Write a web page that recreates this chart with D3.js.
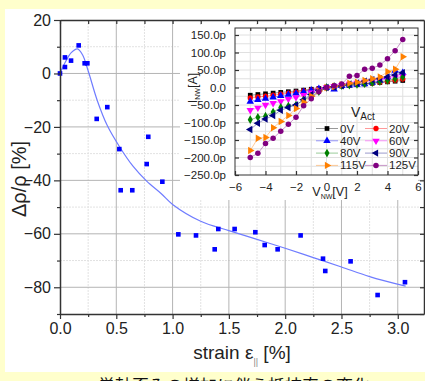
<!DOCTYPE html>
<html>
<head>
<meta charset="utf-8">
<script src="https://cdn.jsdelivr.net/npm/d3@7"></script>
<style>
  body { margin: 0; background: #ffffcc; }
  svg { display: block; font-family: "Liberation Sans", Arial, sans-serif; }
</style>
</head>
<body>
<svg id="chart" width="425" height="381"></svg>
<script>
// main plot: resistivity change vs strain
const strain = [0, 0.044, 0.044, 0.098, 0.166, 0.219, 0.243, 0.326, 0.42, 0.527, 0.539, 0.642,
  0.77, 0.784, 0.909, 1.051, 1.208, 1.374, 1.406, 1.551, 1.735, 1.818, 1.933, 2.137,
  2.336, 2.356, 2.581, 2.821, 3.064];
const drho = [0, 6.0, 2.4, 4.8, 10.5, 3.8, 3.8, -17.0, -12.6, -28.3, -43.7, -43.7,
  -33.9, -23.7, -40.5, -60.2, -60.6, -65.8, -58.2, -58.2, -59.4, -64.2, -65.8, -60.6,
  -69.3, -73.9, -70.3, -82.9, -78.1];
// fitted curve
const fitStrain = [0, 0.05, 0.1, 0.155, 0.2, 0.25, 0.33, 0.42, 0.53, 0.65, 0.77, 0.9, 1.0,
  1.25, 1.5, 1.75, 2.0, 2.25, 2.5, 2.75, 3.07];
const fitDrho = [0, 4.5, 7.8, 9.2, 7.0, 1.0, -10, -19.5, -27.5, -34.8, -40.3, -45, -49,
  -55.3, -58.8, -62.1, -65.4, -68.9, -72.4, -76, -79.6];
const xTicks = [0, 0.5, 1.0, 1.5, 2.0, 2.5, 3.0];
const xMinor = [0.25, 0.75, 1.25, 1.75, 2.25, 2.75, 3.25];
const yTicks = [20, 0, -20, -40, -60, -80];
const yMinor = [10, -10, -30, -50, -70, -90];

// inset: I-V curves
const vnw = [-5, -4.5, -4, -3.5, -3, -2.5, -2, -1.5, -1, -0.5, 0, 0.5, 1, 1.5, 2, 2.5, 3, 3.5, 4, 4.5, 5];
const vact = ["0V", "20V", "40V", "60V", "80V", "90V", "115V", "125V"];
const i0V = [-22, -20, -18, -16, -14, -12, -10, -7.5, -5, -2.5, 0, 2, 4, 6, 8, 10, 12, 14, 16, 18, 20];
const i20V = [-30, -27, -25, -22, -19, -16, -13, -10, -7, -3.5, 0, 3, 5, 7, 9, 11, 13, 15, 18, 21, 24];
const i40V = [-40, -35, -32, -28, -24, -20, -17, -12, -8, -4, 0, -5, 5, 6, 8, 10, 14, 20, 30, 48, 42];
const i60V = [-65, -58, -50, -45, -40, -33, -28, -22, -15, -7, 0, 4, 7, 10, 13, 16, 19, 22, 25, 30, 32];
const i80V = [-92, -85, -82, -70, -57, -53, -50, -35, -26, -12, 0, 3, 5, 7, 9, 11, 14, 17, 20, 25, 30];
const i90V = [-120, -102, -90, -80, -65, -57, -50, -35, -20, -8, 0, 2, 5, 10, 13, 18, 22, 25, 30, 36, 42];
const i115V = [-180, -145, -143, -115, -97, -80, -60, -42, -25, -10, 0, 3, 8, 12, 15, 20, 25, 30, 45, 52, 88];
const i125V = [-200, -188, -160, -145, -125, -105, -85, -52, -32, -12, 0, 5, 10, 32, 34, 52, 55, 64, 82, 105, 137];
const insetXTicks = [-6, -4, -2, 0, 2, 4, 6];
const insetYTicks = [150, 100, 50, 0, -50, -100, -150, -200, -250];

const seriesColors = ["#000000", "#ff0000", "#0000ff", "#ff00ff", "#008000", "#000080", "#ff8000", "#800080"];
const tri = d3.symbolTriangle;
const seriesSymbols = [
  { t: d3.symbolSquare, r: 0, s: 22 },
  { t: d3.symbolCircle, r: 0, s: 22 },
  { t: tri, r: 0, s: 24 },
  { t: tri, r: 180, s: 24 },
  { t: d3.symbolDiamond, r: 0, s: 22 },
  { t: tri, r: -90, s: 24 },
  { t: tri, r: 90, s: 24 },
  { t: d3.symbolCircle, r: 0, s: 24 }
];
const ivData = [i0V, i20V, i40V, i60V, i80V, i90V, i115V, i125V];

const svg = d3.select("#chart");

// white panel
svg.append("rect").attr("x", 5).attr("y", 9).attr("width", 420).attr("height", 363).attr("fill", "#fff");

const x = d3.scaleLinear().domain([0, 3.233]).range([60, 424]);
const y = d3.scaleLinear().domain([-90, 20]).range([314, 20]);

// grid
const grid = svg.append("g");
grid.selectAll(".vmin").data(xMinor.filter(d => d < 3.23)).join("line")
  .attr("x1", d => x(d)).attr("x2", d => x(d)).attr("y1", 20).attr("y2", 314)
  .attr("stroke", "#e2e2e2").attr("stroke-dasharray", "2,1");
grid.selectAll(".hmin").data(yMinor.slice(0, 5)).join("line")
  .attr("x1", 60).attr("x2", 424).attr("y1", d => y(d)).attr("y2", d => y(d))
  .attr("stroke", "#e2e2e2").attr("stroke-dasharray", "2,1");
grid.selectAll(".vmaj").data(xTicks.slice(1)).join("line")
  .attr("x1", d => x(d)).attr("x2", d => x(d)).attr("y1", 20).attr("y2", 314)
  .attr("stroke", "#b4b4b4");
grid.selectAll(".hmaj").data(yTicks.slice(1)).join("line")
  .attr("x1", 60).attr("x2", 424).attr("y1", d => y(d)).attr("y2", d => y(d))
  .attr("stroke", "#b4b4b4");

// fit curve and points
const fitLine = d3.line().x(d => x(d[0])).y(d => y(d[1])).curve(d3.curveCatmullRom.alpha(0.5));
svg.append("path").datum(fitStrain.map((s, i) => [s, fitDrho[i]]))
  .attr("d", fitLine).attr("fill", "none").attr("stroke", "#6f7cff").attr("stroke-width", 1.2);
svg.append("g").selectAll("rect").data(strain.map((s, i) => [s, drho[i]])).join("rect")
  .attr("x", d => x(d[0]) - 2.3).attr("y", d => y(d[1]) - 2.3)
  .attr("width", 4.6).attr("height", 4.6).attr("fill", "#0000ff");

// axes
function styleAxis(sel) {
  sel.select(".domain").attr("stroke", "#333").attr("stroke-width", 1.5);
  sel.selectAll(".tick line").attr("stroke", "#333").attr("stroke-width", 1.2);
  sel.selectAll(".tick text").attr("fill", "#222");
}
svg.append("g").attr("transform", "translate(60,0)")
  .call(d3.axisLeft(y).tickValues(yTicks).tickSize(6).tickSizeOuter(0).tickPadding(3))
  .attr("font-size", 16).attr("font-family", null).call(styleAxis);
svg.append("g").attr("transform", "translate(60,0)")
  .call(d3.axisLeft(y).tickValues(yMinor).tickSize(3).tickSizeOuter(0).tickFormat(""))
  .call(styleAxis).select(".domain").remove();
svg.append("g").attr("transform", "translate(0,314)")
  .call(d3.axisBottom(x).tickValues(xTicks).tickFormat(d3.format(".1f")).tickSize(5).tickSizeOuter(0).tickPadding(4))
  .attr("font-size", 16).attr("font-family", null).call(styleAxis);
svg.append("g").attr("transform", "translate(0,314)")
  .call(d3.axisBottom(x).tickValues(xMinor.filter(d => d < 3.23)).tickSize(3).tickSizeOuter(0).tickFormat(""))
  .call(styleAxis).select(".domain").remove();
svg.append("g").attr("transform", "translate(0,20)")
  .call(d3.axisTop(x).tickValues(xTicks.concat(xMinor.filter(d => d < 3.23))).tickSize(-4).tickSizeOuter(0).tickFormat(""))
  .call(styleAxis);
svg.append("g").attr("transform", "translate(424,0)")
  .call(d3.axisRight(y).tickValues(yTicks.concat(yMinor)).tickSize(-4).tickSizeOuter(0).tickFormat(""))
  .call(styleAxis);

// axis titles
svg.append("text").attr("transform", "translate(26,179) rotate(-90)")
  .attr("text-anchor", "middle").attr("font-size", 20).attr("fill", "#222").text("Δρ/ρ [%]");
const xt = svg.append("text").attr("x", 242).attr("y", 359).attr("text-anchor", "middle")
  .attr("font-size", 19).attr("fill", "#222");
xt.append("tspan").text("strain ε");
xt.append("tspan").attr("font-size", 9).attr("dy", 6).attr("fill", "#888").text("||");
xt.append("tspan").attr("dy", -6).text(" [%]");

// ---------- inset ----------
svg.append("rect").attr("x", 180).attr("y", 25).attr("width", 238).attr("height", 175).attr("fill", "#fff");

const ix = d3.scaleLinear().domain([-6, 6]).range([235, 418]);
const iy = d3.scaleLinear().domain([-250, 170]).range([175, 28]);
const ig = svg.append("g");
ig.selectAll(".iv").data(d3.range(-5, 6, 1)).join("line")
  .attr("x1", d => ix(d)).attr("x2", d => ix(d)).attr("y1", 28).attr("y2", 175)
  .attr("stroke", "#e0e0e0");
ig.selectAll(".ih").data(d3.range(-225, 170, 25)).join("line")
  .attr("x1", 235).attr("x2", 418).attr("y1", d => iy(d)).attr("y2", d => iy(d))
  .attr("stroke", "#e0e0e0");

const ivLine = d3.line().x(d => ix(d[0])).y(d => iy(d[1]));
ivData.forEach((arr, k) => {
  const pts = vnw.map((v, i) => [v, arr[i]]);
  ig.append("path").datum(pts).attr("d", ivLine).attr("fill", "none")
    .attr("stroke", seriesColors[k]).attr("stroke-opacity", 0.4).attr("stroke-width", 1);
  const sym = seriesSymbols[k];
  ig.append("g").selectAll("path").data(pts).join("path")
    .attr("transform", d => `translate(${ix(d[0])},${iy(d[1])}) rotate(${sym.r})`)
    .attr("d", d3.symbol().type(sym.t).size(sym.s)).attr("fill", seriesColors[k]);
});

ig.append("rect").attr("x", 235).attr("y", 28).attr("width", 183).attr("height", 147)
  .attr("fill", "none").attr("stroke", "#333").attr("stroke-width", 1);

const fmtI = d => d === 0 ? "0.0" : d3.format(".1f")(d) + "p";
ig.append("g").attr("transform", "translate(235,0)")
  .call(d3.axisLeft(iy).tickValues(insetYTicks).tickFormat(fmtI).tickSize(-4).tickSizeOuter(0).tickPadding(9))
  .attr("font-size", 11.5).attr("font-family", null).call(styleAxis)
  .call(s => s.select(".domain").remove());
ig.append("g").attr("transform", "translate(418,0)")
  .call(d3.axisRight(iy).tickValues(insetYTicks).tickSize(-4).tickSizeOuter(0).tickFormat(""))
  .call(styleAxis).call(s => s.select(".domain").remove());
ig.append("g").attr("transform", "translate(0,175)")
  .call(d3.axisBottom(ix).tickValues(insetXTicks).tickSize(-4).tickSizeOuter(0).tickPadding(8))
  .attr("font-size", 11.5).attr("font-family", null).call(styleAxis)
  .call(s => s.select(".domain").remove());
ig.append("g").attr("transform", "translate(0,28)")
  .call(d3.axisTop(ix).tickValues(d3.range(-5, 6, 1)).tickSize(-3).tickSizeOuter(0).tickFormat(""))
  .call(styleAxis).call(s => s.select(".domain").remove());

const ixt = ig.append("text").attr("x", 330).attr("y", 196).attr("text-anchor", "middle")
  .attr("font-size", 12.5).attr("fill", "#222");
ixt.append("tspan").text("V");
ixt.append("tspan").attr("font-size", 7).attr("dy", 3).text("NW");
ixt.append("tspan").attr("dy", -3).text("[V]");
const iyt = ig.append("text").attr("transform", "translate(197,88) rotate(-90)").attr("text-anchor", "middle")
  .attr("font-size", 12.5).attr("fill", "#222");
iyt.append("tspan").text("I");
iyt.append("tspan").attr("font-size", 7).attr("dy", 3).text("NW");
iyt.append("tspan").attr("dy", -3).text("[A]");

// legend
const lt = ig.append("text").attr("x", 351).attr("y", 117).attr("font-size", 14).attr("fill", "#222");
lt.append("tspan").text("V");
lt.append("tspan").attr("font-size", 10).attr("dy", 3).text("Act");
vact.forEach((name, k) => {
  const cx = k % 2 === 0 ? 327 : 376;
  const cy = 128.5 + Math.floor(k / 2) * 12.3;
  ig.append("line").attr("x1", cx - 11).attr("x2", cx + 11).attr("y1", cy).attr("y2", cy)
    .attr("stroke", seriesColors[k]).attr("stroke-opacity", 0.4);
  const sym = seriesSymbols[k];
  ig.append("path").attr("transform", `translate(${cx},${cy}) rotate(${sym.r})`)
    .attr("d", d3.symbol().type(sym.t).size(sym.s)).attr("fill", seriesColors[k]);
  ig.append("text").attr("x", cx + 13).attr("y", cy + 4).attr("font-size", 11.5).attr("fill", "#222").text(name);
});

// caption below, cut by the picture edge
svg.append("text").attr("x", 234).attr("y", 392).attr("text-anchor", "middle")
  .attr("font-family", "Noto Sans CJK JP").attr("font-size", 17).attr("fill", "#111")
  .text("単軸歪みの増加に伴う抵抗率の変化");
</script>
</body>
</html>
